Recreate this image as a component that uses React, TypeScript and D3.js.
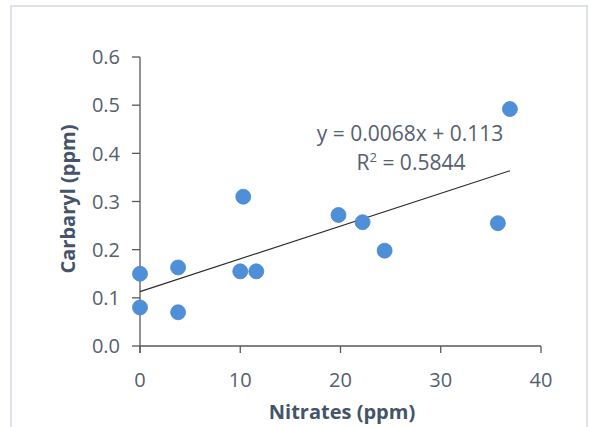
import React, { useEffect, useRef } from 'react';
import * as d3 from 'd3';

// Nitrates (ppm) vs Carbaryl (ppm)
const nitrates = [0, 0, 3.8, 3.8, 10, 10.3, 11.6, 19.8, 22.2, 24.4, 35.7, 36.9];
const carbaryl = [0.15, 0.08, 0.163, 0.07, 0.155, 0.31, 0.155, 0.272, 0.257, 0.198, 0.255, 0.492];
const xTicks = [0, 10, 20, 30, 40];
const yTicks = [0, 0.1, 0.2, 0.3, 0.4, 0.5, 0.6];
const slope = 0.0068;
const intercept = 0.113;
const rSquared = '0.5844';

const W = 589;
const H = 427;
const FONT = '"Open Sans", sans-serif';

const App = () => {
    const svgRef = useRef<SVGSVGElement>(null);

    useEffect(() => {
        if (!svgRef.current) return;
        const svg = d3.select(svgRef.current);
        svg.selectAll('*').remove();

        // chart border
        svg.append('rect')
            .attr('x', 11).attr('y', 6)
            .attr('width', 576).attr('height', 430)
            .attr('fill', '#fff')
            .attr('stroke', '#dde1ea')
            .attr('stroke-width', 2);

        const x = d3.scaleLinear().domain([0, 40]).range([140, 541]);
        const y = d3.scaleLinear().domain([0, 0.6]).range([346, 57]);

        const axisColor = '#595959';
        const textColor = '#56606e';
        const titleColor = '#44546a';

        // y axis
        svg.append('line')
            .attr('x1', x(0)).attr('x2', x(0))
            .attr('y1', y(0.6)).attr('y2', y(0) + 7)
            .attr('stroke', axisColor).attr('stroke-width', 1.3);
        yTicks.forEach(t => {
            svg.append('line')
                .attr('x1', x(0) - 8).attr('x2', x(0))
                .attr('y1', y(t)).attr('y2', y(t))
                .attr('stroke', axisColor).attr('stroke-width', 1.3);
            svg.append('text')
                .attr('x', 120).attr('y', y(t))
                .attr('dy', '0.36em')
                .attr('text-anchor', 'end')
                .attr('fill', textColor)
                .attr('font-family', FONT)
                .attr('font-size', 20)
                .text(t.toFixed(1));
        });

        // x axis
        svg.append('line')
            .attr('x1', x(0)).attr('x2', x(40))
            .attr('y1', y(0)).attr('y2', y(0))
            .attr('stroke', axisColor).attr('stroke-width', 1.3);
        xTicks.forEach(t => {
            svg.append('line')
                .attr('x1', x(t)).attr('x2', x(t))
                .attr('y1', y(0)).attr('y2', y(0) + 7)
                .attr('stroke', axisColor).attr('stroke-width', 1.3);
            svg.append('text')
                .attr('x', x(t)).attr('y', 380)
                .attr('dy', '0.36em')
                .attr('text-anchor', 'middle')
                .attr('fill', textColor)
                .attr('font-family', FONT)
                .attr('font-size', 20)
                .text(t);
        });

        // axis titles
        svg.append('text')
            .attr('x', 342).attr('y', 412)
            .attr('dy', '0.36em')
            .attr('text-anchor', 'middle')
            .attr('fill', titleColor)
            .attr('font-family', FONT)
            .attr('font-weight', 'bold')
            .attr('font-size', 20)
            .text('Nitrates (ppm)');

        svg.append('text')
            .attr('transform', 'translate(68,199) rotate(-90)')
            .attr('dy', '0.36em')
            .attr('text-anchor', 'middle')
            .attr('fill', titleColor)
            .attr('font-family', FONT)
            .attr('font-weight', 'bold')
            .attr('font-size', 20)
            .text('Carbaryl (ppm)');

        // trendline over the data range
        const xMin = d3.min(nitrates) as number;
        const xMax = d3.max(nitrates) as number;
        svg.append('line')
            .attr('x1', x(xMin)).attr('y1', y(slope * xMin + intercept))
            .attr('x2', x(xMax)).attr('y2', y(slope * xMax + intercept))
            .attr('stroke', '#2b2b2b')
            .attr('stroke-width', 1.2);

        // points
        svg.append('g')
            .selectAll('circle')
            .data(nitrates.map((n, i) => [n, carbaryl[i]]))
            .enter()
            .append('circle')
            .attr('cx', d => x(d[0]))
            .attr('cy', d => y(d[1]))
            .attr('r', 7.5)
            .attr('fill', '#4f8fd7')
            .attr('stroke', '#4a88d0')
            .attr('stroke-width', 0.8);

        // equation label
        const eq = svg.append('g')
            .attr('fill', textColor)
            .attr('font-family', FONT)
            .attr('font-size', 21)
            .attr('text-anchor', 'middle');
        eq.append('text')
            .attr('x', 410).attr('y', 133)
            .attr('dy', '0.36em')
            .text(`y = ${slope}x + ${intercept}`);
        const r2 = eq.append('text')
            .attr('x', 411).attr('y', 162)
            .attr('dy', '0.36em');
        r2.append('tspan').text('R');
        r2.append('tspan').attr('font-size', 13).attr('dy', '-0.6em').text('2');
        r2.append('tspan').attr('dy', '0.37em').text(` = ${rSquared}`);
    }, []);

    return (
        <div style={{ position: 'absolute', left: 0, top: 0 }}>
            <svg ref={svgRef} width={W} height={H} style={{ display: 'block' }} />
        </div>
    );
};

export default App;
